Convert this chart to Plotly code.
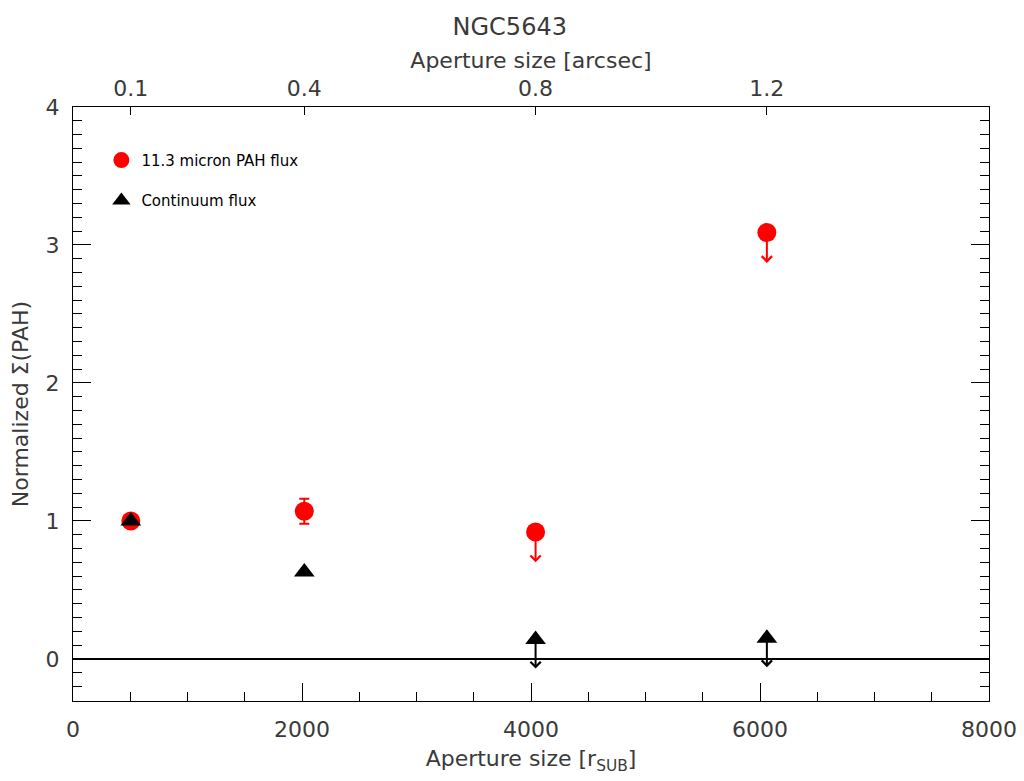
import plotly.graph_objects as go

# ---- data ----
aperture_pc = [505, 2020, 4040, 6060]           # Aperture size [r_SUB]
aperture_arcsec_labels = ["0.1", "0.4", "0.8", "1.2"]
pah_flux = [1.00, 1.07, 0.92, 3.09]             # normalized 11.3 micron PAH
pah_err = [0.0, 0.09, 0.0, 0.0]
pah_upper = [False, False, True, True]
cont_flux = [1.00, 0.63, 0.14, 0.15]            # normalized continuum
cont_upper = [False, False, True, True]
ARROW_LEN_PAH = 0.22
ARROW_LEN_CONT = 0.21

FONT = "DejaVu Sans"
TXT = "#3a3a3a"

fig = go.Figure()

fig.add_trace(go.Scatter(
    x=aperture_pc, y=pah_flux, mode="markers", name="11.3 micron PAH flux",
    marker=dict(symbol="circle", size=19, color="red", line=dict(width=0)),
    error_y=dict(type="data", array=pah_err, color="red", thickness=2, width=5, visible=True),
    legendgroup="a",
))
fig.add_trace(go.Scatter(
    x=aperture_pc, y=cont_flux, mode="markers", name="Continuum flux",
    marker=dict(symbol="triangle-up", size=18, color="black", line=dict(width=0)),
    legendgroup="b",
))
# invisible trace to activate the top axis
fig.add_trace(go.Scatter(
    x=aperture_pc, y=pah_flux, xaxis="x2", mode="markers",
    marker=dict(opacity=0), showlegend=False, hoverinfo="skip",
))

# upper-limit arrows
for xv, yv, up in zip(aperture_pc, pah_flux, pah_upper):
    if up:
        fig.add_annotation(x=xv, y=yv - ARROW_LEN_PAH, ax=xv, ay=yv, xref="x", yref="y",
                           axref="x", ayref="y", showarrow=True, arrowhead=4,
                           arrowsize=1, arrowwidth=2, arrowcolor="red", text="")
for xv, yv, up in zip(aperture_pc, cont_flux, cont_upper):
    if up:
        fig.add_annotation(x=xv, y=yv - ARROW_LEN_CONT, ax=xv, ay=yv, xref="x", yref="y",
                           axref="x", ayref="y", showarrow=True, arrowhead=4,
                           arrowsize=1, arrowwidth=2, arrowcolor="black", text="")

# zero line
fig.add_shape(type="line", xref="paper", x0=0, x1=1, yref="y", y0=0, y1=0,
              line=dict(color="black", width=2))

fig.update_layout(
    width=1024, height=781,
    margin=dict(l=65, r=43, t=99, b=88, autoexpand=False),
    paper_bgcolor="white", plot_bgcolor="white",
    font=dict(family=FONT, color=TXT, size=22),
    title=dict(text="NGC5643", x=0.49, xanchor="center", y=1 - 19 / 781,
               yanchor="middle", yref="container", font=dict(size=24, family=FONT, color=TXT)),
    showlegend=True,
    legend=dict(x=0.031, y=0.938, xanchor="left", yanchor="top", bgcolor="rgba(0,0,0,0)",
                font=dict(size=15, family=FONT, color="black"), tracegroupgap=18,
                itemsizing="trace"),
    xaxis=dict(range=[0, 8000], tickvals=[0, 2000, 4000, 6000, 8000],
               ticks="inside", ticklen=18, tickwidth=1, tickcolor="black",
               minor=dict(dtick=500, ticks="inside", ticklen=9, tickcolor="black", showgrid=False),
               showline=True, linecolor="black", linewidth=1, mirror=True,
               showgrid=False, zeroline=False, ticklabelstandoff=9,
               tickfont=dict(size=22, family=FONT, color=TXT),
               title=dict(text="Aperture size [r<sub>SUB</sub>]", standoff=9,
                          font=dict(size=22, family=FONT, color=TXT)),
               automargin=False),
    xaxis2=dict(range=[0, 8000], overlaying="x", side="top", anchor="y",
                tickvals=aperture_pc, ticktext=aperture_arcsec_labels,
                ticks="inside", ticklen=8, tickwidth=1, tickcolor="black",
                showline=False, showgrid=False, zeroline=False, ticklabelstandoff=6,
                tickfont=dict(size=22, family=FONT, color=TXT),
                title=dict(text="Aperture size [arcsec]", standoff=0,
                           font=dict(size=22, family=FONT, color=TXT)),
                automargin=False),
    yaxis=dict(range=[-0.305, 4], tickvals=[0, 1, 2, 3, 4],
               ticks="inside", ticklen=18, tickwidth=1, tickcolor="black",
               minor=dict(dtick=0.1, ticks="inside", ticklen=9, tickcolor="black", showgrid=False),
               showline=True, linecolor="black", linewidth=1, mirror="ticks",
               showgrid=False, zeroline=False, ticklabelstandoff=8,
               tickfont=dict(size=22, family=FONT, color=TXT),
               title=dict(text="Normalized Σ(PAH)", standoff=14,
                          font=dict(size=22, family=FONT, color=TXT)),
               automargin=False),
)

fig.write_html("out.html")
